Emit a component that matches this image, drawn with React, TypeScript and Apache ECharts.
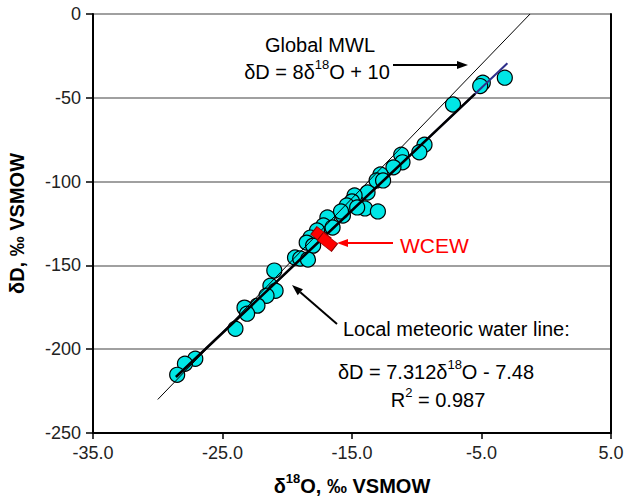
import React, { useEffect, useRef } from 'react';
import * as echarts from 'echarts';

const FONT = '"Liberation Sans", Arial, Helvetica, sans-serif';

// Sample data (δ18O, δD)
const sampleO18 = [-3.2, -4.9, -5.1, -7.2, -9.4, -9.8, -11.2, -11.1, -11.8, -12.8, -13.1, -12.6, -13.8, -14.8, -15.0, -15.4, -14.0, -13.0, -14.6, -15.7, -15.85, -16.9, -17.2, -16.5, -17.7, -18.2, -18.5, -18.0, -19.4, -19.0, -18.4, -21.0, -21.3, -20.9, -21.6, -22.3, -23.3, -23.1, -24.0, -27.1, -27.9, -28.5];
const sampleD = [-38, -41, -43, -54, -78, -82.5, -84, -88.5, -91.5, -95.7, -99.3, -99.3, -106.5, -108.3, -111.8, -114.2, -116, -117.8, -115.4, -120.2, -117.8, -121.4, -126.2, -127.4, -129.2, -133.4, -136.4, -138.2, -145.3, -145.9, -146.5, -153.1, -162.1, -165.1, -168.1, -174, -175.2, -178.8, -187.8, -205.7, -208.7, -215.3];

// WCEW samples
const wcewO18 = [-17.4, -16.9];
const wcewD = [-132.5, -136.0];

// Global meteoric water line end points
const gmwlO18 = [-30, -1.25];
const gmwlD = [-230, 0];

// Local meteoric water line end points (trend line and drawn line)
const lmwlO18 = [-28.4, -3.0];
const lmwlD = [-215.1, -29.4];
const lmwlDrawnO18 = [-28.6, -5.5];
const lmwlDrawnD = [-216.6, -47.7];

const xTicks = { min: -35, max: 5, interval: 10 };
const yTicks = { min: -250, max: 0, interval: 50 };

const zip = (a: number[], b: number[]) => a.map((v, i) => [v, b[i]]);

function arrow(x1: number, y1: number, x2: number, y2: number, color: string, w = 1.5, hl = 11, hw = 4) {
  const a = Math.atan2(y2 - y1, x2 - x1);
  const bx = x2 - hl * Math.cos(a);
  const by = y2 - hl * Math.sin(a);
  const px = -Math.sin(a) * hw;
  const py = Math.cos(a) * hw;
  return [
    { type: 'line', shape: { x1, y1, x2: bx, y2: by }, style: { stroke: color, lineWidth: w } },
    { type: 'polygon', shape: { points: [[x2, y2], [bx + px, by + py], [bx - px, by - py]] }, style: { fill: color } },
  ];
}

function richText(x: number, y: number, text: string, align: string, size = 20, color = '#000') {
  return {
    type: 'text',
    x,
    y,
    style: {
      text,
      align,
      verticalAlign: 'middle',
      fontFamily: FONT,
      fontSize: size,
      fill: color,
      rich: {
        n: { fontSize: size, fontFamily: FONT, fill: color, verticalAlign: 'bottom', lineHeight: 24 },
        s: { fontSize: 13, fontFamily: FONT, fill: color, verticalAlign: 'top', lineHeight: 13 },
      },
    },
  };
}

export default function App() {
  const ref = useRef<HTMLDivElement>(null);
  useEffect(() => {
    if (!ref.current) return;
    const chart = echarts.init(ref.current, null, { renderer: 'svg' });
    const option: any = {
      animation: false,
      backgroundColor: '#fff',
      grid: { left: 93, right: 13, top: 14, bottom: 65, containLabel: false, outerBoundsMode: 'none' },
      xAxis: {
        type: 'value',
        min: xTicks.min,
        max: xTicks.max,
        interval: xTicks.interval,
        axisLine: { show: true, onZero: false, lineStyle: { color: '#000', width: 2 } },
        axisTick: { show: true, length: 6, lineStyle: { color: '#000', width: 1.5 } },
        axisLabel: { fontSize: 18, color: '#222', fontFamily: FONT, margin: 11, formatter: (v: number) => v.toFixed(1) },
        splitLine: { show: false },
        name: '{b|δ}{s|18}{b|O, ‰ VSMOW}',
        nameLocation: 'middle',
        nameGap: 39,
        nameTextStyle: {
          fontSize: 20,
          fontWeight: 'bold',
          fontFamily: FONT,
          color: '#000',
          rich: {
            b: { fontSize: 20, fontWeight: 'bold', fontFamily: FONT, color: '#000', verticalAlign: 'bottom', lineHeight: 24 },
            s: { fontSize: 13, fontWeight: 'bold', fontFamily: FONT, color: '#000', verticalAlign: 'top', lineHeight: 13 },
          },
        },
      },
      yAxis: [
        {
          type: 'value',
          min: yTicks.min,
          max: yTicks.max,
          interval: yTicks.interval,
          axisLine: { show: true, onZero: false, lineStyle: { color: '#000', width: 2 } },
          axisTick: { show: true, length: 7, lineStyle: { color: '#000', width: 1.5 } },
          axisLabel: { fontSize: 18, color: '#222', fontFamily: FONT, margin: 12 },
          splitLine: { show: true, lineStyle: { color: '#808080', width: 1.5 } },
          name: 'δD, ‰ VSMOW',
          nameLocation: 'middle',
          nameRotate: 90,
          nameGap: 66,
          nameTextStyle: { fontSize: 20, fontWeight: 'bold', fontFamily: FONT, color: '#000' },
        },
        {
          type: 'value',
          position: 'right',
          min: yTicks.min,
          max: yTicks.max,
          interval: yTicks.interval,
          axisLine: { show: true, onZero: false, lineStyle: { color: '#000', width: 2 } },
          axisTick: { show: false },
          axisLabel: { show: false },
          splitLine: { show: false },
        },
      ],
      series: [
        {
          type: 'scatter',
          data: zip(sampleO18, sampleD),
          symbol: 'circle',
          symbolSize: 15,
          itemStyle: { color: '#00E6E6', borderColor: '#000', borderWidth: 1.2, opacity: 1 },
          z: 2,
        },
        {
          type: 'line',
          data: zip(gmwlO18, gmwlD),
          symbol: 'none',
          lineStyle: { color: '#000', width: 1 },
          z: 3,
        },
        {
          type: 'line',
          data: zip(lmwlO18, lmwlD),
          symbol: 'none',
          lineStyle: { color: '#2E2E8A', width: 2 },
          z: 4,
        },
        {
          type: 'line',
          data: zip(lmwlDrawnO18, lmwlDrawnD),
          symbol: 'none',
          lineStyle: { color: '#000', width: 2.5 },
          z: 5,
        },
        {
          type: 'scatter',
          data: zip(wcewO18, wcewD),
          symbol: 'rect',
          symbolSize: [18, 10],
          symbolRotate: -38,
          itemStyle: { color: '#FF0000', borderColor: '#8B0000', borderWidth: 0.8, opacity: 1 },
          z: 6,
        },
      ],
      graphic: [
        { type: 'text', x: 320, y: 45, style: { text: 'Global MWL', align: 'center', verticalAlign: 'middle', fontFamily: FONT, fontSize: 20, fill: '#000' } },
        richText(317, 70, '{n|δD = 8δ}{s|18}{n|O + 10}', 'center'),
        ...arrow(393, 65, 468, 65, '#000', 2),
        { type: 'text', x: 400, y: 245, style: { text: 'WCEW', align: 'left', verticalAlign: 'middle', fontFamily: FONT, fontSize: 21, fill: '#FF0000' } },
        ...arrow(393, 243, 337, 243, '#FF0000', 2),
        { type: 'text', x: 343, y: 329, style: { text: 'Local meteoric water line:', align: 'left', verticalAlign: 'middle', fontFamily: FONT, fontSize: 20, fill: '#000' } },
        ...arrow(337, 324, 292, 285, '#000', 2),
        richText(436, 370, '{n|δD = 7.312δ}{s|18}{n|O - 7.48}', 'center'),
        richText(438, 398, '{n|R}{s|2}{n| = 0.987}', 'center'),
      ],
    };
    chart.setOption(option);
    return () => chart.dispose();
  }, []);
  return <div ref={ref} style={{ position: 'absolute', left: 0, top: 0, width: 624, height: 498, background: '#fff' }} />;
}
